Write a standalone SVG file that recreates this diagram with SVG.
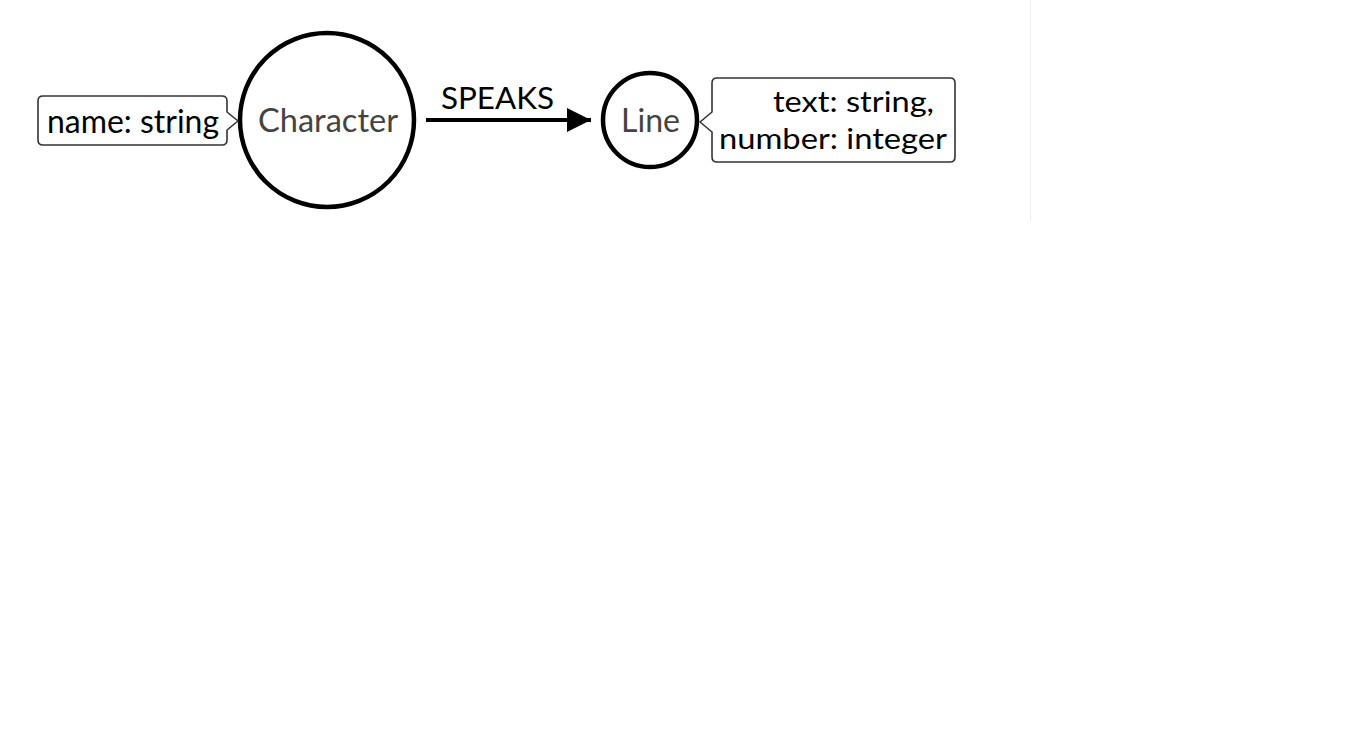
<svg xmlns="http://www.w3.org/2000/svg" width="1366" height="729" viewBox="0 0 1366 729">
<style>
.node{fill:#fff;stroke:#000;stroke-width:4.5}
.callout{fill:#fff;stroke:#333;stroke-width:1.6;stroke-linejoin:round}
.lbl{font-family:Lato,"Open Sans",sans-serif;fill:#000}
.nlbl{font-family:Lato,"Open Sans",sans-serif;fill:#444}
</style>
<defs>
<marker id="arr" viewBox="0 0 10 10" refX="10" refY="5" markerWidth="6" markerHeight="6" markerUnits="strokeWidth" orient="auto">
<path d="M0,0 L10,5 L0,10 Z" fill="#000"/>
</marker>
</defs>
<rect width="1366" height="729" fill="#fff"/>
<line x1="1030.5" y1="0" x2="1030.5" y2="222" stroke="#eeeeee" stroke-width="1"/>
<g id="connectors">
<line x1="426" y1="120" x2="591" y2="120" stroke="#000" stroke-width="4" marker-end="url(#arr)"/>
<text class="lbl" x="441" y="109" font-size="31" textLength="113" lengthAdjust="spacingAndGlyphs">SPEAKS</text>
</g>
<g id="character">
<circle class="node" cx="327" cy="120" r="87"/>
<text class="nlbl" x="258" y="132" font-size="33" textLength="140" lengthAdjust="spacingAndGlyphs">Character</text>
</g>
<g id="character-props">
<path class="callout" d="M43,96 H222 Q227,96 227,101 V112 L238,121 L227,130 V140 Q227,145 222,145 H43 Q38,145 38,140 V101 Q38,96 43,96 Z"/>
<text class="lbl" x="47" y="133" font-size="32" textLength="172" lengthAdjust="spacingAndGlyphs">name: string</text>
</g>
<g id="line">
<circle class="node" cx="650" cy="120" r="47"/>
<text class="nlbl" x="621" y="132" font-size="32" textLength="59" lengthAdjust="spacingAndGlyphs">Line</text>
</g>
<g id="line-props">
<path class="callout" d="M717,78 H950 Q955,78 955,83 V157 Q955,162 950,162 H717 Q712,162 712,157 V132 L700,122 L712,112 V83 Q712,78 717,78 Z"/>
<text class="lbl" x="773" y="112" font-size="29" textLength="161" lengthAdjust="spacingAndGlyphs">text: string,</text>
<text class="lbl" x="719" y="149" font-size="29" textLength="228" lengthAdjust="spacingAndGlyphs">number: integer</text>
</g>
</svg>
